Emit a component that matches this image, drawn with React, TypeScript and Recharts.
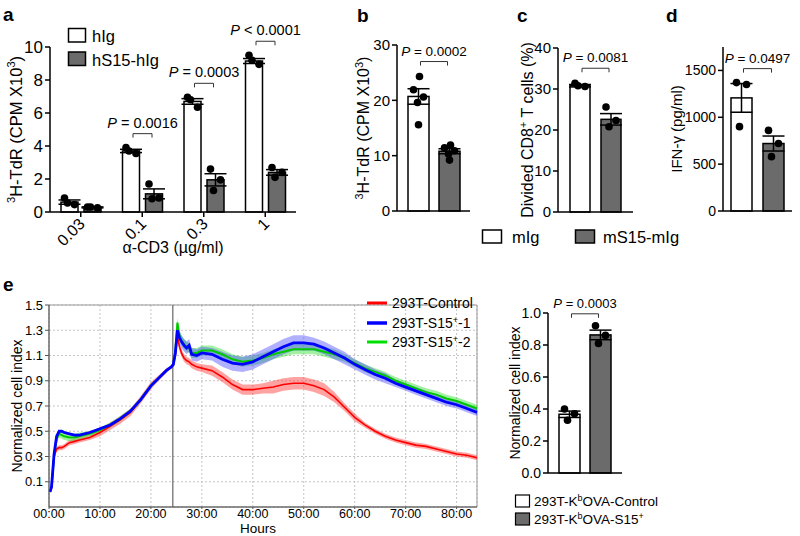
import React from "react";
import {
  BarChart,
  Bar,
  XAxis,
  YAxis,
  ErrorBar,
  ComposedChart,
  Area,
  Line,
  CartesianGrid,
  ReferenceLine,
  ReferenceArea,
} from "recharts";

const FONT = "'Liberation Sans', Arial, Helvetica, sans-serif";
const DARK = "#6b6b6b";

// a: 3H-TdR by anti-CD3 dose
const doses = ["0.03", "0.1", "0.3", "1"];
const hIgMean = [0.6, 3.7, 6.7, 9.15];
const hIgSem = [0.13, 0.1, 0.17, 0.15];
const hS15Mean = [0.28, 1.1, 1.95, 2.4];
const hS15Sem = [0.03, 0.3, 0.37, 0.17];
const hIgDots = [[0.85, 0.45, 0.55], [3.9, 3.55, 3.7], [6.95, 6.35, 6.8], [9.5, 8.95, 9.2]];
const hS15Dots = [[0.3, 0.25, 0.3], [1.7, 0.85, 0.8], [2.6, 1.95, 1.3], [2.7, 2.4, 2.1]];
const pA = ["", "= 0.0016", "= 0.0003", "< 0.0001"];

// b, c, d: mIg vs mS15-mIg
const bMean = [20.7, 10.8];
const bSem = [1.4, 0.45];
const bDots = [[24.3, 21.9, 20.6, 19.6, 15.6], [11.9, 11.4, 10.9, 10.3, 9.2]];
const cMean = [30.8, 22.6];
const cSem = [0.3, 1.4];
const cDots = [[31.4, 30.6, 30.8], [25.6, 22.3, 20.8]];
const dMean = [1207, 720];
const dSem = [153, 80];
const dDots = [[1370, 1350, 900], [860, 720, 580]];

// e: real-time cell index
const hours = [0.2, 0.5, 1, 1.5, 2, 2.5, 3, 4, 5, 6, 8, 10, 12, 14, 16, 18, 20, 22, 23, 24, 24.4, 24.8, 25.2, 25.6, 26, 26.5, 27, 27.5, 28, 29, 30, 32, 34, 36, 38, 40, 42, 44, 46, 48, 50, 52, 54, 56, 58, 60, 62, 64, 66, 68, 70, 72, 74, 76, 78, 80, 82, 84];
const ctrlMean = [0.02, 0.05, 0.3, 0.36, 0.37, 0.37, 0.38, 0.41, 0.42, 0.43, 0.45, 0.49, 0.54, 0.59, 0.65, 0.75, 0.86, 0.94, 0.98, 1.01, 1.02, 1.1, 1.25, 1.17, 1.12, 1.08, 1.06, 1.05, 1.03, 1.01, 1.0, 0.98, 0.93, 0.87, 0.83, 0.83, 0.84, 0.85, 0.87, 0.88, 0.88, 0.86, 0.83, 0.77, 0.69, 0.61, 0.55, 0.5, 0.46, 0.43, 0.41, 0.39, 0.38, 0.36, 0.34, 0.32, 0.31, 0.29];
const ctrlErr = [0.01, 0.01, 0.02, 0.02, 0.02, 0.02, 0.02, 0.02, 0.02, 0.02, 0.02, 0.03, 0.03, 0.03, 0.03, 0.03, 0.03, 0.02, 0.02, 0.01, 0.01, 0.02, 0.03, 0.03, 0.03, 0.03, 0.03, 0.03, 0.03, 0.03, 0.03, 0.04, 0.04, 0.04, 0.04, 0.04, 0.04, 0.05, 0.05, 0.05, 0.05, 0.05, 0.05, 0.04, 0.03, 0.03, 0.02, 0.02, 0.02, 0.02, 0.02, 0.02, 0.02, 0.02, 0.02, 0.02, 0.02, 0.02];
const s1Mean = [0.02, 0.06, 0.32, 0.46, 0.5, 0.5, 0.49, 0.48, 0.47, 0.47, 0.49, 0.52, 0.55, 0.6, 0.66, 0.75, 0.86, 0.94, 0.98, 1.01, 1.03, 1.12, 1.3, 1.24, 1.21, 1.18, 1.16, 1.18, 1.11, 1.1, 1.12, 1.11, 1.07, 1.04, 1.03, 1.05, 1.09, 1.13, 1.17, 1.2, 1.2, 1.19, 1.16, 1.12, 1.08, 1.03, 0.99, 0.95, 0.92, 0.88, 0.85, 0.82, 0.79, 0.76, 0.73, 0.71, 0.68, 0.65];
const s1Err = [0.01, 0.01, 0.01, 0.01, 0.01, 0.01, 0.01, 0.01, 0.01, 0.01, 0.01, 0.01, 0.01, 0.01, 0.01, 0.01, 0.01, 0.01, 0.01, 0.01, 0.01, 0.02, 0.04, 0.05, 0.05, 0.05, 0.05, 0.05, 0.05, 0.05, 0.05, 0.05, 0.06, 0.06, 0.06, 0.06, 0.06, 0.06, 0.06, 0.06, 0.06, 0.05, 0.05, 0.05, 0.05, 0.04, 0.04, 0.04, 0.04, 0.03, 0.03, 0.03, 0.03, 0.03, 0.03, 0.03, 0.03, 0.03];
const s2Mean = [0.02, 0.06, 0.31, 0.44, 0.48, 0.47, 0.46, 0.45, 0.45, 0.46, 0.48, 0.51, 0.55, 0.6, 0.66, 0.75, 0.86, 0.94, 0.98, 1.01, 1.03, 1.14, 1.36, 1.26, 1.22, 1.19, 1.17, 1.16, 1.12, 1.12, 1.14, 1.14, 1.11, 1.07, 1.05, 1.06, 1.08, 1.11, 1.13, 1.15, 1.15, 1.15, 1.13, 1.11, 1.08, 1.04, 1.0, 0.97, 0.94, 0.9, 0.87, 0.84, 0.81, 0.79, 0.76, 0.74, 0.71, 0.68];
const s2Err = [0.01, 0.01, 0.02, 0.03, 0.03, 0.03, 0.03, 0.03, 0.03, 0.03, 0.02, 0.02, 0.02, 0.02, 0.02, 0.02, 0.02, 0.01, 0.01, 0.01, 0.01, 0.02, 0.04, 0.04, 0.04, 0.04, 0.04, 0.04, 0.04, 0.04, 0.04, 0.04, 0.04, 0.04, 0.04, 0.04, 0.04, 0.04, 0.04, 0.04, 0.04, 0.04, 0.04, 0.04, 0.03, 0.03, 0.03, 0.03, 0.03, 0.03, 0.03, 0.03, 0.03, 0.03, 0.03, 0.03, 0.03, 0.03];
const hourTicks = [0, 10, 20, 30, 40, 50, 60, 70, 80];
const indexTicks = [0.1, 0.3, 0.5, 0.7, 0.9, 1.1, 1.3, 1.5];

// e right: cell index at endpoint
const eMean = [0.367, 0.863];
const eSem = [0.02, 0.03];
const eDots = [[0.4, 0.37, 0.33], [0.92, 0.86, 0.81]];

const jitter3 = [-5, 5, -2];
const jitter5 = [1, -5, 5, -1, 0];

const axisStyle = { stroke: "#000", strokeWidth: 1.5 };

function pairRow(mean: number[], sem: number[], dots: number[][], p: string) {
  return { name: "", a: mean[0], aErr: sem[0], b: mean[1], bErr: sem[1], aDots: dots[0], bDots: dots[1], p };
}

function DotBar(props: any) {
  const { x, y, width, height, fill, payload, meanKey, dotsKey, gap, lift, pSize, note } = props;
  const mean = payload[meanKey];
  const base = y + height;
  const k = mean ? height / mean : 0;
  const dots: number[] = payload[dotsKey];
  const offs = dots.length === 5 ? jitter5 : jitter3;
  const cx = x + width / 2;
  let ann = null;
  if (note && payload.p) {
    const left = cx - width - gap;
    const all = [...payload.aDots, ...payload.bDots, payload.a + payload.aErr, payload.b + payload.bErr];
    const top = base - Math.max(...all) * k - lift;
    const x1 = left + 2;
    const x2 = cx - 2;
    ann = (
      <g>
        <path d={`M${x1},${top + 4}V${top}H${x2}V${top + 4}`} fill="none" stroke="#333" strokeWidth={1} />
        <text x={(x1 + x2) / 2} y={top - 6} textAnchor="middle" fontSize={pSize} fill="#000" fontFamily={FONT}>
          <tspan fontStyle="italic">P</tspan> {payload.p}
        </text>
      </g>
    );
  }
  return (
    <g>
      <rect x={x} y={y} width={width} height={height} fill={fill} stroke="#000" strokeWidth={1.5} />
      {dots.map((d, i) => (
        <circle key={i} cx={cx + offs[i % offs.length]} cy={base - d * k} r={3.8} fill="#000" />
      ))}
      {ann}
    </g>
  );
}

function YTitle(props: any) {
  const { viewBox, dx, size, children } = props;
  const cx = viewBox.x + dx;
  const cy = viewBox.y + viewBox.height / 2;
  return (
    <text x={cx} y={cy} transform={`rotate(-90 ${cx} ${cy})`} textAnchor="middle" fontSize={size} fill="#000" fontFamily={FONT}>
      {children}
    </text>
  );
}

function XTitle(props: any) {
  const { viewBox, dy, dx = 0, size, children } = props;
  return (
    <text x={viewBox.x + viewBox.width / 2 + dx} y={viewBox.y + dy} textAnchor="middle" fontSize={size} fill="#000" fontFamily={FONT}>
      {children}
    </text>
  );
}

function AngleTick(props: any) {
  const { x, y, payload } = props;
  const ax = x + 5;
  const ay = y + 6;
  return (
    <text x={ax} y={ay} transform={`rotate(-45 ${ax} ${ay})`} textAnchor="end" fontSize={16} fill="#000" fontFamily={FONT}>
      {payload.value}
    </text>
  );
}

const sup = (t: string, size: number) => [
  <tspan key="s" dy={-size * 0.4} fontSize={size * 0.68}>{t}</tspan>,
];

function PairPanel(props: any) {
  const { left, top, width, height, margin, row, domain, ticks, yWidth, barSize, gap, lift, title, titleDx, fmt } = props;
  return (
    <div style={{ position: "absolute", left, top }}>
      <BarChart width={width} height={height} data={[row]} margin={margin} barSize={barSize} barGap={gap} barCategoryGap={0}>
        <XAxis dataKey="name" tick={false} tickLine={false} axisLine={axisStyle} height={4} />
        <YAxis
          domain={domain}
          ticks={ticks}
          width={yWidth}
          interval={0}
          axisLine={axisStyle}
          tickLine={axisStyle}
          tickSize={5}
          tickFormatter={fmt}
          tick={{ fill: "#000", fontSize: props.tickSize || 15, fontFamily: FONT }}
          label={<YTitle dx={titleDx} size={props.titleSize || 16}>{title}</YTitle>}
        />
        <Bar dataKey="a" fill="#fff" isAnimationActive={false} shape={<DotBar meanKey="a" dotsKey="aDots" />}>
          <ErrorBar dataKey="aErr" width={11} stroke="#000" strokeWidth={1.5} direction="y" />
        </Bar>
        <Bar
          dataKey="b"
          fill={DARK}
          isAnimationActive={false}
          shape={<DotBar meanKey="b" dotsKey="bDots" note gap={gap} lift={lift} pSize={props.pSize || 13.5} />}
        >
          <ErrorBar dataKey="bErr" width={11} stroke="#000" strokeWidth={1.5} direction="y" />
        </Bar>
      </BarChart>
    </div>
  );
}

function PanelA() {
  const rows = doses.map((name, i) => ({
    name,
    a: hIgMean[i],
    aErr: hIgSem[i],
    b: hS15Mean[i],
    bErr: hS15Sem[i],
    aDots: hIgDots[i],
    bDots: hS15Dots[i],
    p: pA[i],
  }));
  return (
    <div style={{ position: "absolute", left: 0, top: 0 }}>
      <BarChart width={310} height={260} data={rows} margin={{ top: 47, right: 14, bottom: 0, left: 0 }} barSize={17} barGap={6}>
        <XAxis
          dataKey="name"
          height={48}
          interval={0}
          axisLine={axisStyle}
          tickLine={axisStyle}
          tickSize={5}
          tick={<AngleTick />}
          label={<XTitle dy={41} size={16}>α-CD3 (µg/ml)</XTitle>}
        />
        <YAxis
          domain={[0, 10]}
          ticks={[0, 2, 4, 6, 8, 10]}
          width={50}
          axisLine={axisStyle}
          tickLine={axisStyle}
          tickSize={5}
          tick={{ fill: "#000", fontSize: 17, fontFamily: FONT }}
          label={
            <YTitle dx={22} size={16.5}>
              {sup("3", 16.5)}
              <tspan dy={16.5 * 0.4}>H-TdR (CPM X10</tspan>
              <tspan dy={-16.5 * 0.4} fontSize={11}>3</tspan>
              <tspan dy={16.5 * 0.4}>)</tspan>
            </YTitle>
          }
        />
        <Bar dataKey="a" fill="#fff" isAnimationActive={false} shape={<DotBar meanKey="a" dotsKey="aDots" />}>
          <ErrorBar dataKey="aErr" width={11} stroke="#000" strokeWidth={1.5} direction="y" />
        </Bar>
        <Bar dataKey="b" fill={DARK} isAnimationActive={false} shape={<DotBar meanKey="b" dotsKey="bDots" note gap={6} lift={14} pSize={14.5} />}>
          <ErrorBar dataKey="bErr" width={11} stroke="#000" strokeWidth={1.5} direction="y" />
        </Bar>
      </BarChart>
    </div>
  );
}

function PanelE() {
  const rows = hours.map((h, i) => ({
    h,
    ctrl: ctrlMean[i],
    ctrlBand: [ctrlMean[i] - ctrlErr[i], ctrlMean[i] + ctrlErr[i]],
    s1: s1Mean[i],
    s1Band: [s1Mean[i] - s1Err[i], s1Mean[i] + s1Err[i]],
    s2: s2Mean[i],
    s2Band: [s2Mean[i] - s2Err[i], s2Mean[i] + s2Err[i]],
  }));
  const fmtH = (v: number) => `${String(v).padStart(2, "0")}:00`;
  return (
    <div style={{ position: "absolute", left: 0, top: 290 }}>
      <ComposedChart width={490} height={246} data={rows} margin={{ top: 15, right: 13, bottom: 0, left: 0 }}>
        <CartesianGrid stroke="#c4c4c4" strokeDasharray="2 2" />
        <ReferenceArea x1={0} x2={84} y1={-0.1} y2={1.5} fill="none" stroke="#999" strokeWidth={1} />
        <XAxis
          type="number"
          dataKey="h"
          domain={[0, 84]}
          ticks={hourTicks}
          tickFormatter={fmtH}
          interval={0}
          height={29}
          axisLine={{ stroke: "#555" }}
          tickLine={{ stroke: "#555" }}
          tickSize={2}
          tickMargin={0}
          tick={{ fill: "#000", fontSize: 12.5, fontFamily: FONT }}
          label={<XTitle dy={26} dx={-5} size={13.5}>Hours</XTitle>}
        />
        <YAxis
          domain={[-0.1, 1.5]}
          ticks={indexTicks}
          interval={0}
          width={49}
          allowDataOverflow
          tickFormatter={(v: number) => v.toFixed(1)}
          axisLine={{ stroke: "#555" }}
          tickLine={{ stroke: "#555" }}
          tickSize={4}
          tick={{ fill: "#000", fontSize: 13, fontFamily: FONT }}
          label={<YTitle dx={22} size={14}>Normalized cell index</YTitle>}
        />
        <ReferenceLine x={24.3} stroke="#666" strokeWidth={1.2} />
        <Area type="linear" dataKey="ctrlBand" stroke="none" fill="#ff3030" fillOpacity={0.45} isAnimationActive={false} />
        <Line type="linear" dataKey="ctrl" stroke="#ff0000" strokeWidth={1.6} dot={false} isAnimationActive={false} />
        <Area type="linear" dataKey="s2Band" stroke="none" fill="#30e030" fillOpacity={0.45} isAnimationActive={false} />
        <Line type="linear" dataKey="s2" stroke="#00c800" strokeWidth={2} dot={false} isAnimationActive={false} />
        <Area type="linear" dataKey="s1Band" stroke="none" fill="#5050ff" fillOpacity={0.45} isAnimationActive={false} />
        <Line type="linear" dataKey="s1" stroke="#0000ff" strokeWidth={2.8} dot={false} isAnimationActive={false} />
      </ComposedChart>
    </div>
  );
}

function Overlay() {
  const t = { fontFamily: FONT, fill: "#000" } as const;
  return (
    <svg width={800} height={536} style={{ position: "absolute", left: 0, top: 0, pointerEvents: "none" }}>
      <g {...t} fontWeight="bold" fontSize={19}>
        <text x={3} y={21}>a</text>
        <text x={357} y={22}>b</text>
        <text x={517} y={22}>c</text>
        <text x={666} y={22}>d</text>
        <text x={3} y={291}>e</text>
      </g>
      {/* legend a */}
      <rect x={68.5} y={28.5} width={17} height={13.5} fill="#fff" stroke="#000" strokeWidth={1.5} />
      <text x={92} y={42} fontSize={16.5} {...t}>hIg</text>
      <rect x={68.5} y={52} width={17} height={13.5} fill={DARK} stroke="#000" strokeWidth={1.5} />
      <text x={92} y={65.5} fontSize={16.5} {...t}>hS15-hIg</text>
      {/* legend b-d */}
      <rect x={482.5} y={230} width={19} height={13} fill="#fff" stroke="#000" strokeWidth={1.5} />
      <text x={512} y={243} fontSize={16.5} {...t}>mIg</text>
      <rect x={575.5} y={230} width={19} height={13} fill={DARK} stroke="#000" strokeWidth={1.5} />
      <text x={603} y={243} fontSize={16.5} {...t}>mS15-mIg</text>
      {/* legend e lines */}
      <g fontSize={14} {...t}>
        <line x1={367} x2={387} y1={303} y2={303} stroke="#ff0000" strokeWidth={3} />
        <text x={392} y={308}>293T-Control</text>
        <line x1={367} x2={387} y1={323} y2={323} stroke="#0000ff" strokeWidth={3.5} />
        <text x={392} y={328}>
          293T-S15<tspan dy={-5} fontSize={9}>+</tspan>
          <tspan dy={5}>-1</tspan>
        </text>
        <line x1={367} x2={387} y1={342} y2={342} stroke="#00e000" strokeWidth={3} />
        <text x={392} y={347}>
          293T-S15<tspan dy={-5} fontSize={9}>+</tspan>
          <tspan dy={5}>-2</tspan>
        </text>
      </g>
      {/* legend e bars */}
      <g fontSize={13.5} {...t}>
        <rect x={515.5} y={495} width={14} height={12} fill="#fff" stroke="#000" strokeWidth={1.2} />
        <text x={534} y={506}>
          293T-K<tspan dy={-5} fontSize={9}>b</tspan>
          <tspan dy={5}>OVA-Control</tspan>
        </text>
        <rect x={515.5} y={513} width={14} height={12} fill={DARK} stroke="#000" strokeWidth={1.2} />
        <text x={534} y={524}>
          293T-K<tspan dy={-5} fontSize={9}>b</tspan>
          <tspan dy={5}>OVA-S15</tspan>
          <tspan dy={-5} fontSize={9}>+</tspan>
        </text>
      </g>
    </svg>
  );
}

export default function App() {
  return (
    <div style={{ position: "absolute", left: 0, top: 0, width: 800, height: 536, background: "#fff", fontFamily: FONT }}>
      <PanelA />
      <PairPanel
        left={330}
        top={0}
        width={150}
        height={260}
        margin={{ top: 45, right: 10, bottom: 45, left: 0 }}
        row={pairRow(bMean, bSem, bDots, "= 0.0002")}
        domain={[0, 30]}
        ticks={[0, 10, 20, 30]}
        yWidth={67}
        barSize={21}
        gap={10}
        lift={15}
        titleDx={39}
        title={[
          ...sup("3", 16),
          <tspan key="a" dy={16 * 0.4}>H-TdR (CPM X10</tspan>,
          <tspan key="b" dy={-16 * 0.4} fontSize={11}>3</tspan>,
          <tspan key="c" dy={16 * 0.4}>)</tspan>,
        ]}
      />
      <PairPanel
        left={480}
        top={0}
        width={165}
        height={260}
        margin={{ top: 48, right: 12, bottom: 44, left: 0 }}
        row={pairRow(cMean, cSem, cDots, "= 0.0081")}
        domain={[0, 40]}
        ticks={[0, 10, 20, 30, 40]}
        yWidth={78}
        barSize={20}
        gap={11}
        lift={15}
        titleDx={53}
        title={[
          <tspan key="a">Divided CD8</tspan>,
          <tspan key="b" dy={-6.5} fontSize={11}>+</tspan>,
          <tspan key="c" dy={6.5}> T cells (%)</tspan>,
        ]}
      />
      <PairPanel
        left={645}
        top={0}
        width={155}
        height={260}
        margin={{ top: 47, right: 8, bottom: 45, left: 0 }}
        row={pairRow(dMean, dSem, dDots, "= 0.0497")}
        domain={[0, 1750]}
        ticks={[0, 500, 1000, 1500]}
        yWidth={78}
        barSize={21}
        gap={11}
        lift={14}
        titleDx={37}
        tickSize={14}
        titleSize={15}
        title="IFN-γ (pg/ml)"
      />
      <PanelE />
      <PairPanel
        left={490}
        top={290}
        width={150}
        height={200}
        margin={{ top: 23, right: 18, bottom: 13, left: 0 }}
        row={pairRow(eMean, eSem, eDots, "= 0.0003")}
        domain={[0, 1]}
        ticks={[0, 0.2, 0.4, 0.6, 0.8, 1]}
        fmt={(v: number) => v.toFixed(1)}
        yWidth={58}
        barSize={21}
        gap={10}
        lift={12}
        titleDx={30}
        titleSize={14}
        tickSize={14}
        pSize={13}
        title="Normalized cell index"
      />
      <Overlay />
    </div>
  );
}
